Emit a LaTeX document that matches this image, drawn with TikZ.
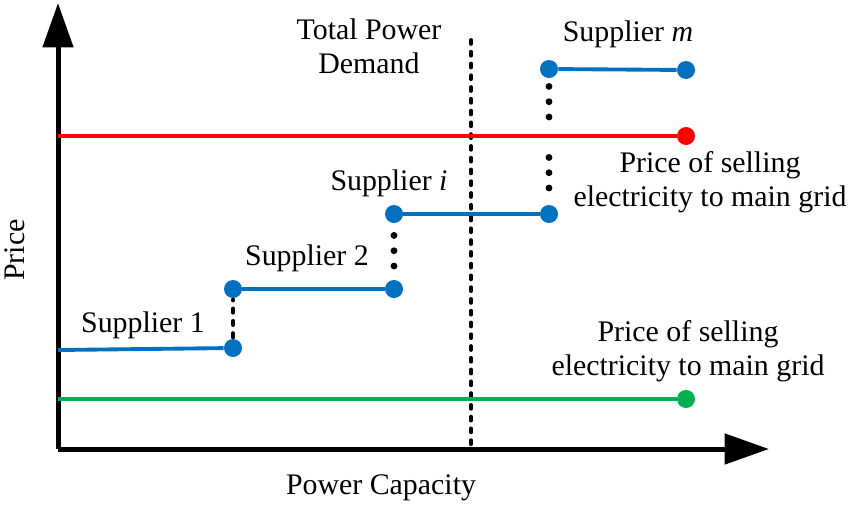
\documentclass[tikz,border=0pt]{standalone}
\usepackage{fontspec}
\setmainfont{Liberation Serif}
\usetikzlibrary{arrows.meta}

\begin{document}
\begin{tikzpicture}[x=0.02cm, y=-0.02cm,
  axis/.style={line width=0.1cm, -{Triangle[length=0.89cm, width=0.6cm]}},
  offer/.style={line width=2.2pt, color=supblue},
  dot/.style={circle, fill=#1, inner sep=0pt, minimum size=0.36cm},
  demandline/.style={line width=2.2pt, line cap=round, dash pattern=on 2.2pt off 4.5pt},
  stepdots/.style={line width=3.9pt, line cap=round, dash pattern=on 0pt off 8.7pt},
  stepdash/.style={line width=2.6pt, line cap=round, dash pattern=on 2pt off 5pt},
  lbl/.style={font=\fontsize{17}{19.5}\selectfont, align=center, inner sep=0pt}]
\definecolor{supblue}{RGB}{0,112,192}
\definecolor{gridred}{RGB}{255,0,0}
\definecolor{gridgreen}{RGB}{0,176,80}
\useasboundingbox (0,0) rectangle (857,511);
% axes
\coordinate (origin) at (58,449);
\coordinate (ytip) at (58,3);
\coordinate (xtip) at (769,449);
\draw[axis] (origin) -- (ytip);
\draw[axis] (origin) -- (xtip);
\node[lbl, rotate=90] (ylabel) at (15,250) {Price};
\node[lbl] (xlabel) at (381,488) {Power Capacity};
% total demand
\coordinate (dtop) at (471,40);
\coordinate (dbot) at (471,446);
\draw[demandline] (dtop) -- (dbot);
\node[lbl] (demand) at (369,46) {Total Power\\Demand};
% grid prices
\coordinate (redstart) at (58,136);
\node[dot=gridred] (redend) at (686,136) {};
\draw[line width=2.2pt, gridred] (redstart) -- (redend);
\node[lbl] (redlbl) at (710,182) {Price of selling\\electricity to main grid};
\coordinate (greenstart) at (58,399);
\node[dot=gridgreen] (greenend) at (686,399) {};
\draw[line width=2.2pt, gridgreen] (greenstart) -- (greenend);
\node[lbl] (greenlbl) at (688,351) {Price of selling\\electricity to main grid};
% suppliers
\coordinate (s1a) at (58,350);
\node[dot=supblue] (s1b) at (233,348) {};
\node[dot=supblue] (s2a) at (233,289) {};
\node[dot=supblue] (s2b) at (394,289) {};
\node[dot=supblue] (sia) at (394,214) {};
\node[dot=supblue] (sib) at (549,214) {};
\node[dot=supblue] (sma) at (549,69) {};
\node[dot=supblue] (smb) at (686,70) {};
\draw[offer] (s1a) -- (s1b);
\draw[offer] (s2a) -- (s2b);
\draw[offer] (sia) -- (sib);
\draw[offer] (sma) -- (smb);
\coordinate (d1a) at (233,337);
\coordinate (d1b) at (233,300);
\draw[stepdash] (d1a) -- (d1b);
\coordinate (d2a) at (394,266);
\coordinate (d2b) at (394,234);
\draw[stepdots] (d2a) -- (d2b);
\coordinate (d3a) at (549,188);
\coordinate (d3b) at (549,156);
\coordinate (d3c) at (549,117);
\coordinate (d3d) at (549,85);
\draw[stepdots] (d3a) -- (d3b);
\draw[stepdots] (d3c) -- (d3d);
\node[lbl] (s1lbl) at (143,325) {Supplier 1};
\node[lbl] (s2lbl) at (307,258) {Supplier 2};
\node[lbl] (silbl) at (389,183) {Supplier \textit{i}};
\node[lbl] (smlbl) at (628,34) {Supplier \textit{m}};
\end{tikzpicture}
\end{document}
